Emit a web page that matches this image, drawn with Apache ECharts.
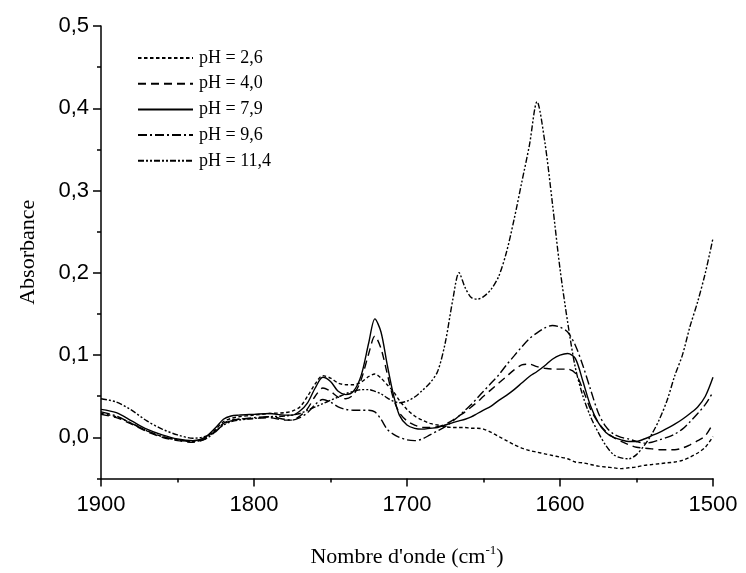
<!DOCTYPE html>
<html>
<head>
<meta charset="utf-8">
<script src="https://cdn.jsdelivr.net/npm/echarts@6/dist/echarts.min.js"></script>
<style>
  html, body { margin: 0; padding: 0; background: #ffffff; }
  #chart { width: 746px; height: 573px; }
</style>
</head>
<body>
<div id="chart"></div>
<script>
// Wavenumbers (cm-1) shared by every spectrum
const wavenumbers = [
  1900, 1890, 1880, 1870, 1860, 1850, 1840, 1832, 1825, 1820,
  1815, 1810, 1800, 1790, 1780, 1775, 1770, 1765, 1760, 1755,
  1750, 1745, 1740, 1735, 1730, 1725, 1721, 1717, 1713, 1709,
  1705, 1700, 1695, 1690, 1685, 1680, 1675, 1670, 1666, 1662,
  1658, 1654, 1650, 1645, 1640, 1635, 1630, 1625, 1620, 1615,
  1610, 1605, 1600, 1595, 1590, 1585, 1580, 1575, 1570, 1565,
  1560, 1555, 1550, 1545, 1540, 1535, 1530, 1525, 1520, 1515,
  1510, 1505, 1500
];

// Absorbance for each pH
const absPH26 = [
  0.029, 0.025, 0.017, 0.008, 0.001, -0.003, -0.005, -0.001, 0.010, 0.019,
  0.023, 0.025, 0.027, 0.029, 0.030, 0.032, 0.037, 0.050, 0.065, 0.075,
  0.072, 0.066, 0.064, 0.064, 0.067, 0.074, 0.077, 0.072, 0.064, 0.056,
  0.045, 0.034, 0.026, 0.021, 0.017, 0.015, 0.013, 0.012, 0.012, 0.012,
  0.011, 0.011, 0.010, 0.006, 0.001, -0.004, -0.009, -0.013, -0.016, -0.018,
  -0.020, -0.022, -0.024, -0.026, -0.030, -0.031, -0.033, -0.035, -0.036, -0.037,
  -0.038, -0.037, -0.036, -0.034, -0.033, -0.032, -0.031, -0.030, -0.028, -0.024,
  -0.019, -0.012, 0.001
];
const absPH40 = [
  0.028, 0.024, 0.016, 0.007, 0.000, -0.004, -0.006, -0.002, 0.008, 0.017,
  0.021, 0.022, 0.023, 0.024, 0.021, 0.021, 0.026, 0.035, 0.050, 0.060,
  0.056, 0.049, 0.047, 0.052, 0.070, 0.102, 0.123, 0.108, 0.078, 0.048,
  0.030, 0.020, 0.015, 0.012, 0.012, 0.013, 0.016, 0.021, 0.026, 0.031,
  0.037, 0.043, 0.050, 0.058, 0.066, 0.074, 0.082, 0.088, 0.089, 0.086,
  0.084, 0.083, 0.083, 0.083, 0.078, 0.058, 0.034, 0.018, 0.007, 0.000,
  -0.005, -0.009, -0.012, -0.013, -0.014, -0.015, -0.015, -0.015, -0.013, -0.009,
  -0.004, 0.002, 0.017
];
const absPH79 = [
  0.034, 0.030, 0.020, 0.010, 0.003, -0.002, -0.004, 0.000, 0.012, 0.022,
  0.026, 0.027, 0.028, 0.029, 0.027, 0.027, 0.032, 0.042, 0.060, 0.073,
  0.068, 0.056, 0.052, 0.056, 0.075, 0.115, 0.144, 0.128, 0.089, 0.053,
  0.027, 0.015, 0.011, 0.010, 0.011, 0.012, 0.015, 0.018, 0.020, 0.022,
  0.025, 0.029, 0.033, 0.038, 0.045, 0.051, 0.058, 0.066, 0.074, 0.080,
  0.087, 0.095, 0.100, 0.102, 0.096, 0.068, 0.038, 0.018, 0.006, 0.000,
  -0.003, -0.005, -0.005, -0.002, 0.002, 0.006, 0.011, 0.016, 0.022, 0.029,
  0.037, 0.050, 0.073
];
const absPH96 = [
  0.031, 0.026, 0.017, 0.008, 0.001, -0.003, -0.005, -0.002, 0.007, 0.016,
  0.020, 0.022, 0.024, 0.025, 0.022, 0.021, 0.024, 0.030, 0.040, 0.046,
  0.043, 0.037, 0.034, 0.033, 0.033, 0.033, 0.031, 0.022, 0.010, 0.004,
  0.000, -0.003, -0.004, -0.002, 0.003, 0.008, 0.013, 0.020, 0.026, 0.033,
  0.040, 0.048, 0.056, 0.066, 0.076, 0.088, 0.099, 0.110, 0.120, 0.127,
  0.133, 0.136, 0.134, 0.128, 0.112, 0.087, 0.058, 0.030, 0.013, 0.004,
  0.000, -0.002, -0.005, -0.007, -0.006, -0.003, 0.000, 0.004, 0.010, 0.019,
  0.029, 0.040, 0.055
];
const absPH114 = [
  0.047, 0.043, 0.033, 0.020, 0.010, 0.003, -0.001, 0.001, 0.008, 0.015,
  0.019, 0.021, 0.023, 0.025, 0.026, 0.027, 0.029, 0.033, 0.037, 0.041,
  0.045, 0.049, 0.053, 0.056, 0.058, 0.058, 0.056, 0.053, 0.048, 0.044,
  0.042, 0.044, 0.049, 0.057, 0.066, 0.080, 0.115, 0.168, 0.200, 0.182,
  0.170, 0.168, 0.171, 0.180, 0.196, 0.225, 0.265, 0.310, 0.355, 0.408,
  0.360, 0.285, 0.205, 0.140, 0.085, 0.050, 0.025, 0.006, -0.010, -0.021,
  -0.025, -0.026, -0.021, -0.010, 0.004, 0.022, 0.045, 0.075, 0.100, 0.135,
  0.165, 0.200, 0.242
];

const seriesNames = ['pH = 2,6', 'pH = 4,0', 'pH = 7,9', 'pH = 9,6', 'pH = 11,4'];

// Tick positions on the absorbance axis
const yMajorTicks = [0, 0.1, 0.2, 0.3, 0.4, 0.5];
const yMinorTicks = [-0.05, 0.05, 0.15, 0.25, 0.35, 0.45];

function pairs(values) {
  return wavenumbers.map((w, i) => [w, values[i]]);
}

function spectrum(name, values, dash) {
  return {
    name: name,
    type: 'line',
    data: pairs(values),
    showSymbol: false,
    symbol: 'none',
    smooth: 0.3,
    lineStyle: { color: '#000', width: 1.4, type: dash },
    itemStyle: { color: '#000' },
    emphasis: { disabled: true },
    z: 3
  };
}

const chart = echarts.init(document.getElementById('chart'), null, { renderer: 'canvas' });

chart.setOption({
  animation: false,
  backgroundColor: '#ffffff',
  grid: { left: 101, right: 33, top: 26, bottom: 90.5, containLabel: false },
  legend: {
    orient: 'vertical',
    left: 137,
    top: 49,
    padding: 0,
    itemWidth: 55,
    itemHeight: 18,
    itemGap: 7.7,
    selectedMode: false,
    // only the dashed stroke is shown as the key, no marker
    itemStyle: { color: 'rgba(0,0,0,0)', borderWidth: 0, opacity: 0 },
    textStyle: { fontFamily: 'Liberation Serif', fontSize: 18, color: '#000', padding: [0, 0, 0, 1] },
    data: seriesNames
  },
  xAxis: {
    type: 'value',
    min: 1500,
    max: 1900,
    interval: 100,
    inverse: true,
    name: "Nombre d'onde (cm{sup|-1})",
    nameLocation: 'middle',
    nameGap: 66,
    nameTextStyle: {
      fontFamily: 'Liberation Serif', fontSize: 22, color: '#000',
      rich: { sup: { fontFamily: 'Liberation Serif', fontSize: 13, verticalAlign: 'top', padding: [0, 0, 12, 0] } }
    },
    axisLine: { show: true, onZero: false, lineStyle: { color: '#000', width: 1.5 } },
    axisTick: { show: true, inside: false, length: 8, lineStyle: { color: '#000', width: 1.5 } },
    minorTick: { show: true, splitNumber: 2, length: 4, lineStyle: { color: '#000', width: 1.5 } },
    splitLine: { show: false },
    axisLabel: {
      fontFamily: 'Liberation Sans', fontSize: 22, color: '#000', margin: 15,
      formatter: v => String(v)
    }
  },
  yAxis: [
    {
      type: 'value',
      min: -0.05,
      max: 0.5,
      name: 'Absorbance',
      nameLocation: 'middle',
      nameGap: 62,
      nameRotate: 90,
      nameTextStyle: { fontFamily: 'Liberation Serif', fontSize: 22, color: '#000' },
      axisLine: { show: true, onZero: false, lineStyle: { color: '#000', width: 1.5 } },
      axisTick: { show: true, inside: false, length: 8, customValues: yMajorTicks, lineStyle: { color: '#000', width: 1.5 } },
      splitLine: { show: false },
      axisLabel: {
        customValues: yMajorTicks,
        fontFamily: 'Liberation Sans', fontSize: 22, color: '#000', margin: 12,
        formatter: v => v.toFixed(1).replace('.', ',')
      }
    },
    {
      type: 'value',
      min: -0.05,
      max: 0.5,
      position: 'left',
      axisLine: { show: false },
      axisTick: { show: true, inside: false, length: 4, customValues: yMinorTicks, lineStyle: { color: '#000', width: 1.5 } },
      axisLabel: { show: false },
      splitLine: { show: false }
    }
  ],
  series: [
    spectrum(seriesNames[0], absPH26, [3.5, 2.5]),
    spectrum(seriesNames[1], absPH40, [8, 5]),
    spectrum(seriesNames[2], absPH79, 'solid'),
    spectrum(seriesNames[3], absPH96, [9, 3, 2, 3]),
    spectrum(seriesNames[4], absPH114, [6, 2, 2, 2, 2, 2])
  ]
});
</script>
</body>
</html>
